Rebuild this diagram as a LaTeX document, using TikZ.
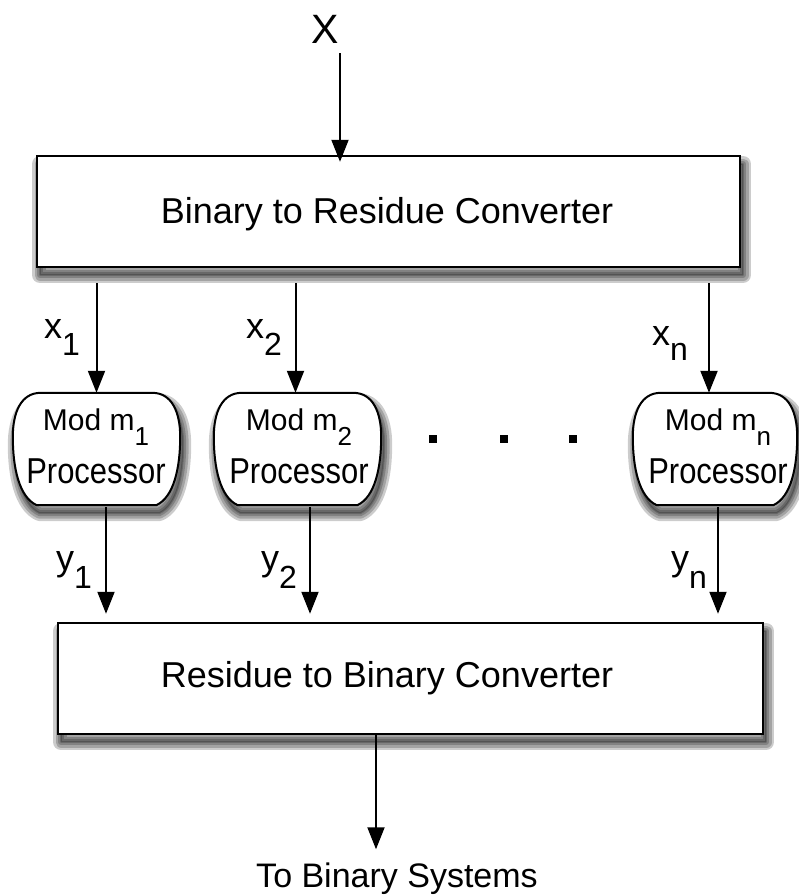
\documentclass[tikz,border=0pt]{standalone}
\usepackage{fontspec}
\setmainfont{Liberation Sans}
\newfontfamily\condensedsans[FakeStretch=0.86]{Liberation Sans}
\usetikzlibrary{arrows.meta,calc}

% subscript set lower than usual, as the labels use it
\newcommand\lowsub[3]{\raisebox{-#2pt}{\fontsize{#1}{#1}\selectfont #3}}

\tikzset{
  shadowlayer/.style={draw=black, opacity=0.2, line width=#1, line join=round,
      transform canvas={xshift=3pt, yshift=-8pt}},
  softshadow/.style={
      preaction={shadowlayer=16pt},
      preaction={shadowlayer=11pt},
      preaction={shadowlayer=6pt},
      preaction={shadowlayer=2pt, fill=black, fill opacity=0.2}},
  convbox/.style={draw, line width=2.5pt, fill=white, inner sep=0pt,
      minimum height=111pt, softshadow},
  procslot/.style={inner sep=0pt, minimum width=#1, minimum height=112pt},
  procline/.style={draw, line width=2pt, fill=white, softshadow},
  boxtext/.style={anchor=base, inner sep=0pt, font=\fontsize{36}{36}\selectfont},
  proctext/.style={anchor=base, inner sep=0pt, align=center,
      font=\fontsize{30}{53}\selectfont},
  siglabel/.style={anchor=base west, inner sep=0pt, font=\fontsize{36}{36}\selectfont},
  arr/.style={line width=2pt, -{Triangle[length=22pt,width=17pt]}},
  dotmark/.style={fill=black, inner sep=0pt, minimum size=8pt},
}

% barrel-shaped outline of a processor, drawn around a named slot node
\newcommand\procframe[1]{%
  \path[procline] let \p1=(#1.north west), \p2=(#1.south east) in
    (\x1+28pt,\y1) -- (\x2-28pt,\y1)
    .. controls (\x2-8pt,\y1) and (\x2,\y1-20pt) .. (\x2,\y1-44pt)
    .. controls (\x2,\y1-74pt) and (\x2-6pt,\y2+8pt) .. (\x2-24pt,\y2)
    -- (\x1+24pt,\y2)
    .. controls (\x1+6pt,\y2+8pt) and (\x1,\y1-74pt) .. (\x1,\y1-44pt)
    .. controls (\x1,\y1-20pt) and (\x1+8pt,\y1) .. (\x1+28pt,\y1) -- cycle;}

\begin{document}
\begin{tikzpicture}[x=1pt,y=-1pt]
  \useasboundingbox (0,0) rectangle (799,895);

  % input
  \node[anchor=base, inner sep=0pt, font=\fontsize{41}{41}\selectfont] (xlbl) at (325,43) {X};
  \coordinate (xin) at (340,53);

  % converters
  \node[convbox, minimum width=703pt] (b2r) at (388.5,211.5) {};
  \node[boxtext] (b2rtxt) at (387,223) {Binary to Residue Converter};
  \node[convbox, minimum width=705pt] (r2b) at (410.5,678.5) {};
  \node[boxtext] (r2btxt) at (387,687) {Residue to Binary Converter};

  % processors
  \node[procslot=167pt] (p1) at (96.5,449) {};
  \node[procslot=167pt] (p2) at (297.5,449) {};
  \node[procslot=164pt] (pn) at (715,449) {};
  \procframe{p1}
  \procframe{p2}
  \procframe{pn}
  \node[proctext] (p1txt) at (96,483) {Mod m\lowsub{26}{15}{1}\\{\fontsize{36}{36}\condensedsans Processor}};
  \node[proctext] (p2txt) at (299,483) {Mod m\lowsub{26}{15}{2}\\{\fontsize{36}{36}\condensedsans Processor}};
  \node[proctext] (pntxt) at (718,483) {Mod m\lowsub{26}{15}{n}\\{\fontsize{36}{36}\condensedsans Processor}};

  % ellipsis between processors
  \node[dotmark] (d1) at (433,439) {};
  \node[dotmark] (d2) at (504,439) {};
  \node[dotmark] (d3) at (573,439) {};

  % output
  \node[anchor=base, inner sep=0pt, font=\fontsize{34}{34}\selectfont] (out) at (397,887) {To Binary Systems};

  % connectors
  \draw[arr, shorten >=-7pt] (xin) -- (xin |- b2r.north);
  \draw[arr, shorten <=15pt] (p1.north |- b2r.south) -- (p1.north);
  \draw[arr, shorten <=15pt] ([xshift=-2pt]p2.north |- b2r.south) -- ([xshift=-2pt]p2.north);
  \draw[arr, shorten <=15pt] ([xshift=-6pt]pn.north |- b2r.south) -- ([xshift=-6pt]pn.north);
  \draw[arr, shorten <=2pt, shorten >=8pt] ([xshift=9.5pt]p1.south) -- ([xshift=9.5pt]p1.south |- r2b.north);
  \draw[arr, shorten <=2pt, shorten >=8pt] ([xshift=12.5pt]p2.south) -- ([xshift=12.5pt]p2.south |- r2b.north);
  \draw[arr, shorten <=2pt, shorten >=8pt] ([xshift=3pt]pn.south) -- ([xshift=3pt]pn.south |- r2b.north);
  \draw[arr] ([xshift=-34.5pt]r2b.south) -- ++(0,114);

  % signal labels
  \node[siglabel] (lx1) at (44,338) {x\lowsub{32}{17}{1}};
  \node[siglabel] (lx2) at (246,338) {x\lowsub{32}{17}{2}};
  \node[siglabel] (lxn) at (652,345) {x\lowsub{32}{15}{n}};
  \node[siglabel] (ly1) at (56,570) {y\lowsub{32}{18}{1}};
  \node[siglabel] (ly2) at (261,570) {y\lowsub{32}{18}{2}};
  \node[siglabel] (lyn) at (671,570) {y\lowsub{32}{18}{n}};
\end{tikzpicture}
\end{document}
